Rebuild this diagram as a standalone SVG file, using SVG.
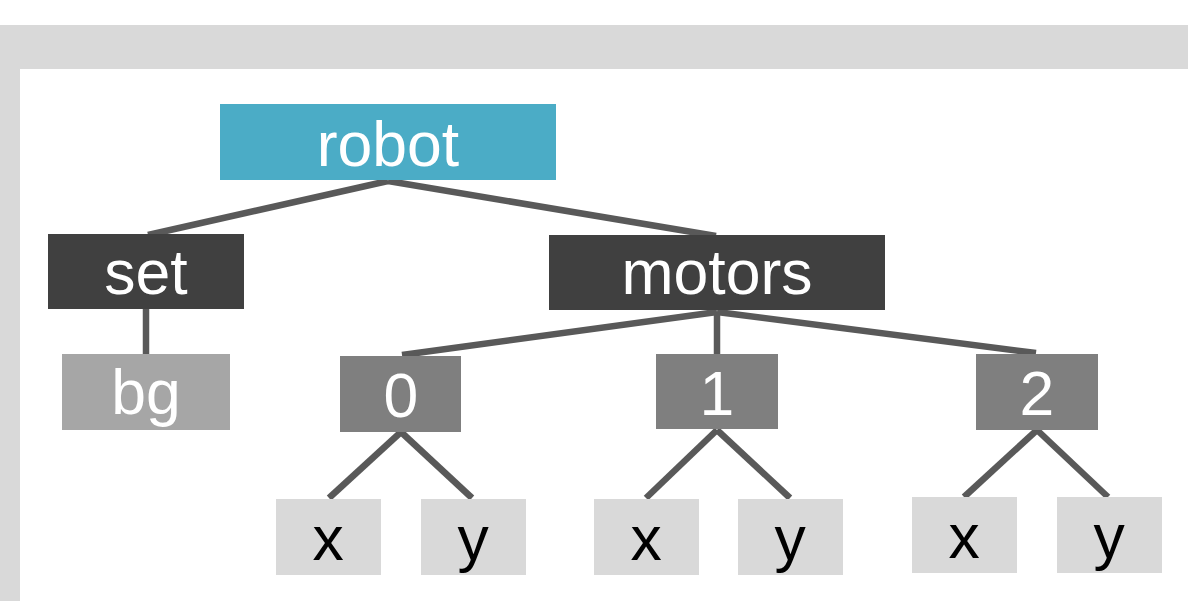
<svg xmlns="http://www.w3.org/2000/svg" width="1188" height="601" viewBox="0 0 1188 601">
<style>
text{font-family:"Liberation Sans",Arial,sans-serif;font-size:62.5px;text-anchor:middle}
.w{fill:#ffffff}.k{fill:#000000}
.c line{stroke:#595959;stroke-width:6.5}
</style>
<rect x="0" y="0" width="1188" height="601" fill="#ffffff"/>
<g id="frame">
<rect x="0" y="25" width="1188" height="44" fill="#d9d9d9"/>
<rect x="0" y="25" width="20" height="576" fill="#d9d9d9"/>
</g>
<g class="c" id="connectors">
<line x1="388" y1="181" x2="148" y2="235"/>
<line x1="388" y1="181" x2="716" y2="236"/>
<line x1="146" y1="309" x2="146" y2="354"/>
<line x1="717" y1="312" x2="402" y2="355"/>
<line x1="717" y1="312" x2="717" y2="354"/>
<line x1="717" y1="312" x2="1036" y2="353"/>
<line x1="401" y1="432" x2="329" y2="498"/>
<line x1="401" y1="432" x2="472" y2="498"/>
<line x1="717" y1="430" x2="646" y2="498"/>
<line x1="717" y1="430" x2="790" y2="498"/>
<line x1="1037" y1="430" x2="964" y2="497"/>
<line x1="1037" y1="430" x2="1108" y2="497"/>
</g>
<g id="robot"><rect x="220" y="104" width="336" height="76" fill="#4bacc6"/><text class="w" x="388" y="166">robot</text></g>
<g id="set"><rect x="48" y="234" width="196" height="75" fill="#404040"/><text class="w" x="146" y="294">set</text></g>
<g id="motors"><rect x="549" y="235" width="336" height="75" fill="#404040"/><text class="w" x="717" y="294">motors</text></g>
<g id="bg"><rect x="62" y="354" width="168" height="76" fill="#a6a6a6"/><text class="w" x="146" y="414">bg</text></g>
<g id="n0"><rect x="340" y="356" width="121" height="76" fill="#7f7f7f"/><text class="w" x="401" y="417">0</text></g>
<g id="n1"><rect x="656" y="354" width="122" height="75" fill="#7f7f7f"/><text class="w" x="717" y="415">1</text></g>
<g id="n2"><rect x="976" y="354" width="122" height="76" fill="#7f7f7f"/><text class="w" x="1037" y="415">2</text></g>
<g id="x0"><rect x="276" y="499" width="105" height="76" fill="#d9d9d9"/><text class="k" x="328" y="560">x</text></g>
<g id="y0"><rect x="421" y="499" width="105" height="76" fill="#d9d9d9"/><text class="k" x="473" y="560">y</text></g>
<g id="x1"><rect x="594" y="499" width="105" height="76" fill="#d9d9d9"/><text class="k" x="646" y="560">x</text></g>
<g id="y1"><rect x="738" y="499" width="105" height="76" fill="#d9d9d9"/><text class="k" x="790" y="560">y</text></g>
<g id="x2"><rect x="912" y="497" width="105" height="76" fill="#d9d9d9"/><text class="k" x="964" y="558">x</text></g>
<g id="y2"><rect x="1057" y="497" width="105" height="76" fill="#d9d9d9"/><text class="k" x="1109" y="558">y</text></g>
</svg>
